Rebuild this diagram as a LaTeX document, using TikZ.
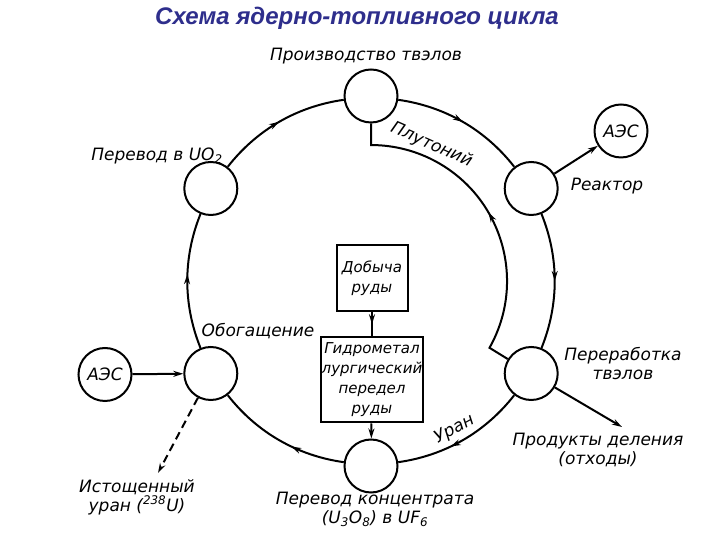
\documentclass[tikz,border=0pt]{standalone}
\usepackage{fontspec}
\setmainfont{DejaVu Sans}
\newfontfamily\titlefont{Liberation Sans}
\usetikzlibrary{positioning,calc,arrows.meta,decorations.markings}
\definecolor{titleblue}{RGB}{46,46,140}

\begin{document}
\begin{tikzpicture}[x=1pt, y=1pt,
        stage/.style={draw, circle, fill=white, minimum size=53pt, inner sep=0pt, line width=2pt},
        plant/.style={draw, circle, minimum size=53pt, inner sep=0pt, line width=2pt, font=\itshape\fontsize{17}{19}\selectfont},
        box/.style={draw, rectangle, line width=2pt, align=center, inner sep=1pt, font=\itshape\fontsize{15}{20}\selectfont},
        lbl/.style={align=center, font=\itshape\fontsize{17}{19}\selectfont},
        cyc/.style={line width=2pt, postaction={decorate}, decoration={markings, mark=at position #1 with {\arrow{Stealth[length=10pt, width=6pt]}}}},
        cyc/.default=0.5,
        arrow/.style={-{Stealth[length=10pt, width=6pt]}, line width=2pt}
    ]
        \useasboundingbox (0,0) rectangle (720,540);

        % Title
        \node[font=\titlefont\bfseries\itshape\fontsize{24}{28}\selectfont, text=titleblue] (title) at (357,522) {Схема ядерно-топливного цикла};

        % Stages of the cycle
        \node[stage] (fab) at (371, 444) {};
        \node[stage] (reactor) at (531.2, 351.5) {};
        \node[stage] (reproc) at (531.2, 166.5) {};
        \node[stage] (conv) at (371, 74) {};
        \node[stage] (enrich) at (210.8, 166.5) {};
        \node[stage] (oxide) at (210.8, 351.5) {};

        % Power plants
        \node[plant] (aesR) at (621, 409) {АЭС};
        \node[plant] (aesL) at (105, 165.5) {АЭС};

        % Ore boxes
        \node[box, minimum width=71pt, minimum height=66pt] (mine) at (372, 262) {Добыча\\руды};
        \node[box, minimum width=97pt, minimum height=85pt] (hydro) at (372, 160) {Гидрометал\\лургический\\передел\\руды};

        % Labels
        \node[lbl] (fabL) at (366, 484) {Производство твэлов};
        \node[lbl] (reactorL) at (607, 354) {Реактор};
        \node[lbl] (reprocL) at (623, 176) {Переработка\\твэлов};
        \node[lbl] (convL) at (375, 31) {Перевод концентрата\\(U\textsubscript{3}O\textsubscript{8}) в UF\textsubscript{6}};
        \node[lbl] (enrichL) at (258, 209) {Обогащение};
        \node[lbl] (oxideL) at (157, 384) {Перевод в UO\textsubscript{2}};
        \node[lbl] (deplL) at (137, 43) {Истощенный\\уран (\textsuperscript{238}U)};
        \node[lbl] (wasteL) at (598, 90) {Продукты деления\\(отходы)};
        \node[lbl, rotate=-24] (puL) at ($(371,259)+(66:149)$) {Плутоний};
        \node[lbl, rotate=29] (uL) at ($(371,259)+(-60.6:170)$) {Уран};

        \coordinate (pu) at (489.5, 192.2);
        \coordinate (depl) at (158, 67);
        \coordinate (waste) at (622, 113);

        % Main cycle
        \draw[cyc] (fab) to[bend left=22, looseness=0.9] (reactor);
        \draw[cyc] (reactor) to[bend left=22, looseness=0.9] (reproc);
        \draw[cyc=0.6] (reproc) to[bend left=22, looseness=0.9] (conv);
        \draw[cyc=0.4] (conv) to[bend left=22, looseness=0.9] (enrich);
        \draw[cyc=0.55] (enrich) to[bend left=22, looseness=0.9] (oxide);
        \draw[cyc] (oxide) to[bend left=22, looseness=0.9] (fab);

        % Plutonium return
        \draw[cyc] (reproc) -- (pu) arc[start angle=-29.4, end angle=90, radius=136] -- (fab);

        % Side flows
        \draw[arrow] (reactor) -- (aesR);
        \draw[arrow] (aesL) -- (enrich);
        \draw[arrow, dash pattern=on 8pt off 5pt] (enrich) -- (depl);
        \draw[arrow] (reproc) -- (waste);
        \draw[cyc] (mine) -- (hydro);
        \draw[arrow] (hydro) -- (conv);
    \end{tikzpicture}
\end{document}
